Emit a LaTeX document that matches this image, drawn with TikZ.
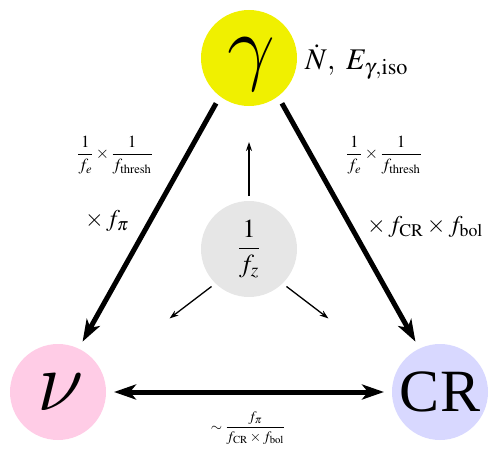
\RequirePackage{fix-cm}
\documentclass[tikz,border=0pt]{standalone}
\usepackage{amsmath}
\usepackage{mathptmx}
\usepackage{fontspec}
\setmainfont{Liberation Serif}
\usetikzlibrary{arrows.meta}

\definecolor{gammayellow}{HTML}{F0F000}
\definecolor{nupink}{HTML}{FFCCE6}
\definecolor{crblue}{HTML}{D8D8FF}
\definecolor{fzgray}{HTML}{E6E6E6}

% big italic greek letters from Computer Modern math italic
\newcommand{\biggam}{{\usefont{OML}{cmm}{m}{it}\char"0D}}
\newcommand{\bignu}{{\usefont{OML}{cmm}{m}{it}\char"17}}

\begin{document}
\begin{tikzpicture}[
    x=1pt, y=-1pt,
    ball/.style={circle, minimum size=96pt, inner sep=0pt, outer sep=8pt},
    biggreek/.style={font=\fontsize{85}{85}\selectfont},
    bigroman/.style={font=\fontsize{60}{60}\selectfont},
    thickarrow/.style={-{Stealth[length=22pt, width=15pt, inset=6pt]}, line width=5pt},
    thinarrow/.style={-{Stealth[length=9pt, width=6pt]}, line width=1.3pt},
    lbl/.style={inner sep=0pt},
    fraclbl/.style={lbl, font=\fontsize{17}{17}\selectfont},
    factorlbl/.style={lbl, font=\fontsize{24}{24}\selectfont},
]
\useasboundingbox (0,0) rectangle (498,452);

% the three messengers and the redshift factor
\node[ball, fill=gammayellow] (gamma) at (249,58) {};
\node[biggreek, inner sep=0pt, yshift=-6pt] (gammasym) at (gamma) {\biggam};
\node[ball, fill=nupink, biggreek] (nu) at (58,392) {\bignu};
\node[ball, fill=crblue, bigroman] (cr) at (440,392) {CR};
\node[ball, fill=fzgray, outer sep=5pt, font=\fontsize{26}{26}\selectfont] (fz) at (249,249) {$\dfrac{1}{f_z}$};

% labels
\node[lbl, anchor=west, font=\fontsize{30}{30}\selectfont] (rate) at (305,62) {$\dot{N},\ E_{\gamma,\mathrm{iso}}$};
\node[fraclbl] (lfrac) at (115,155) {$\dfrac{1}{f_e}\times\dfrac{1}{f_{\mathrm{thresh}}}$};
\node[fraclbl] (rfrac) at (384,155) {$\dfrac{1}{f_e}\times\dfrac{1}{f_{\mathrm{thresh}}}$};
\node[factorlbl] (lpi) at (107,221) {$\times\, f_\pi$};
\node[factorlbl] (rcr) at (425,227) {$\times\, f_{\mathrm{CR}}\times f_{\mathrm{bol}}$};
\node[lbl, font=\fontsize{14.5}{14.5}\selectfont] (bfrac) at (248,428) {${\sim}\;\dfrac{f_\pi}{f_{\mathrm{CR}}\times f_{\mathrm{bol}}}$};

% connectors
\draw[thickarrow] (gamma.234) -- (nu.64);
\draw[thickarrow] (gamma.306) -- (cr.116);
\draw[thickarrow, {Stealth[length=22pt, width=15pt, inset=6pt]}-{Stealth[length=22pt, width=15pt, inset=6pt]}] (nu) -- (cr);

\draw[thinarrow] (fz.90) -- ++(0,-54);
\draw[thinarrow] (fz.225) -- ++(-42,32);
\draw[thinarrow] (fz.315) -- ++(42,32);
\end{tikzpicture}
\end{document}
